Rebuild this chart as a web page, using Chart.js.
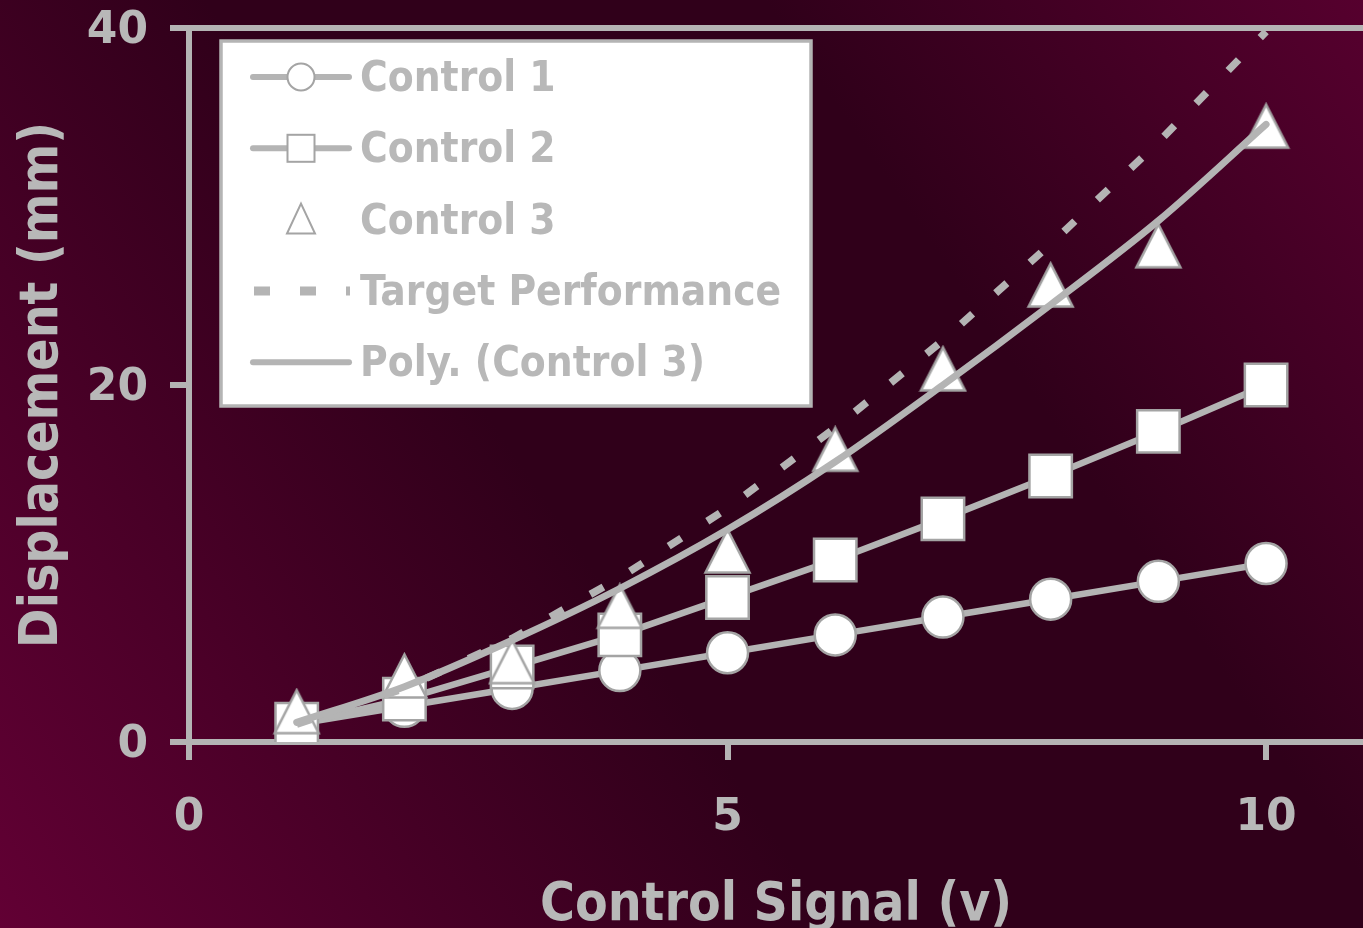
<!DOCTYPE html>
<html>
<head>
<meta charset="utf-8">
<title>Displacement vs Control Signal</title>
<script src="https://cdn.jsdelivr.net/npm/chart.js@4.4.1/dist/chart.umd.min.js"></script>
<style>
  html, body { margin: 0; padding: 0; overflow: hidden; background: #2c0018; }
  canvas { display: block; }
</style>
</head>
<body>
<canvas id="chart" width="1363" height="928" style="width:1363px;height:928px"></canvas>
<script>
// Control signal (v) on the x axis
const signal   = [1, 2, 3, 4, 5, 6, 7, 8, 9, 10];
// Measured displacement (mm)
const control1 = [1.0, 2.0, 3.0, 4.0, 5.0, 6.0, 7.0, 8.0, 9.0, 10.0];
const control2 = [1.0, 2.4, 4.2, 6.0, 8.1, 10.2, 12.5, 14.9, 17.4, 20.0];
const control3 = [1.7, 3.7, 4.5, 7.6, 10.7, 16.4, 20.9, 25.6, 27.8, 34.5];
// Target curve and the polynomial trend of Control 3
const target   = [1.0, 3.0, 5.8, 9.2, 13.1, 17.6, 22.5, 27.9, 33.6, 39.8];
const trend    = [1.1, 3.1, 5.7, 8.6, 11.9, 15.7, 20.0, 24.5, 29.2, 34.6];

const xTicks = [0, 5, 10];
const yTicks = [0, 20, 40];
const seriesNames = ['Control 1', 'Control 2', 'Control 3', 'Target Performance', 'Poly. (Control 3)'];

const GREY = '#b4b4b4';
const EDGE = '#a4a4a4';
const TEXT = '#b8b8b8';
const CONDENSED = "'DejaVu Sans Condensed', 'DejaVu Sans', sans-serif";
const WIDE = "'DejaVu Sans', Verdana, sans-serif";

const toPoints = ys => signal.map((x, i) => ({ x, y: ys[i] }));

// Upright triangle marker, centred on its bounding box
function triangleMarker(w, h, lw, fill, stroke) {
  const c = document.createElement('canvas');
  c.width = Math.ceil(w + lw * 2);
  c.height = Math.ceil(h + lw * 2);
  const g = c.getContext('2d');
  const ox = (c.width - w) / 2, oy = (c.height - h) / 2;
  g.beginPath();
  g.moveTo(ox + w / 2, oy);
  g.lineTo(ox + w, oy + h);
  g.lineTo(ox, oy + h);
  g.closePath();
  g.fillStyle = fill;
  g.fill();
  g.lineWidth = lw;
  g.strokeStyle = stroke;
  g.stroke();
  return c;
}
const triangleImg = triangleMarker(44, 43, 2.5, '#ffffff', EDGE);

// Diagonal maroon backdrop: lighter toward the lower-left and upper-right corners
const backdrop = {
  id: 'backdrop',
  beforeDraw(chart) {
    const { ctx, width, height } = chart;
    ctx.save();
    const g = ctx.createLinearGradient(0, height, width, 0);
    g.addColorStop(0, '#620034');
    g.addColorStop(0.42, '#30001a');
    g.addColorStop(0.7, '#30001a');
    g.addColorStop(1, '#56002e');
    ctx.fillStyle = g;
    ctx.fillRect(0, 0, width, height);
    ctx.restore();
  }
};

// Boxed legend with line-and-marker samples, inside the plot area
const legendBox = {
  id: 'legendBox',
  afterDraw(chart) {
    const ctx = chart.ctx;
    const L = 221, T = 41, R = 811, B = 406;
    ctx.save();
    ctx.fillStyle = '#ffffff';
    ctx.fillRect(L, T, R - L, B - T);
    ctx.lineWidth = 3.5;
    ctx.strokeStyle = GREY;
    ctx.strokeRect(L, T, R - L, B - T);

    const kinds = ['circle', 'rect', 'triangle', 'dash', 'line'];
    const x0 = 253, x1 = 349, mx = 301;
    kinds.forEach((kind, i) => {
      const y = 77 + i * 71.3;
      ctx.strokeStyle = GREY;
      if (kind === 'dash') {
        ctx.lineWidth = 9;
        ctx.lineCap = 'butt';
        ctx.setLineDash([16, 30]);
        ctx.beginPath(); ctx.moveTo(254, y); ctx.lineTo(350, y); ctx.stroke();
        ctx.setLineDash([]);
      } else if (kind !== 'triangle') {
        ctx.lineWidth = 6;
        ctx.lineCap = 'round';
        ctx.beginPath(); ctx.moveTo(x0, y); ctx.lineTo(x1, y); ctx.stroke();
      }
      ctx.fillStyle = '#ffffff';
      ctx.strokeStyle = EDGE;
      ctx.lineWidth = 2;
      if (kind === 'circle') {
        ctx.beginPath(); ctx.arc(mx, y, 13.5, 0, Math.PI * 2); ctx.fill(); ctx.stroke();
      } else if (kind === 'rect') {
        ctx.fillRect(mx - 13.5, y - 13.5, 27, 27); ctx.strokeRect(mx - 13.5, y - 13.5, 27, 27);
      } else if (kind === 'triangle') {
        ctx.beginPath();
        ctx.moveTo(mx, y - 16); ctx.lineTo(mx + 14, y + 14); ctx.lineTo(mx - 14, y + 14);
        ctx.closePath(); ctx.fill(); ctx.stroke();
      }
      ctx.fillStyle = TEXT;
      ctx.font = 'bold 42px ' + CONDENSED;
      ctx.textBaseline = 'middle';
      ctx.textAlign = 'left';
      ctx.fillText(seriesNames[i], 360, y + 3);
    });
    ctx.restore();
  }
};

const markerBase = {
  showLine: true,
  borderColor: GREY,
  borderWidth: 6.5,
  borderCapStyle: 'round',
  borderJoinStyle: 'round',
  pointBackgroundColor: '#ffffff',
  pointBorderColor: EDGE,
  pointBorderWidth: 2.5,
  pointHoverRadius: 0
};

new Chart(document.getElementById('chart'), {
  type: 'scatter',
  data: {
    datasets: [
      {
        label: seriesNames[4],
        data: toPoints(trend),
        showLine: true,
        borderColor: GREY,
        borderWidth: 7,
        borderCapStyle: 'round',
        cubicInterpolationMode: 'monotone',
        pointRadius: 0
      },
      {
        label: seriesNames[3],
        data: toPoints(target),
        showLine: true,
        borderColor: GREY,
        borderWidth: 7.5,
        borderDash: [15, 31],
        borderCapStyle: 'butt',
        pointRadius: 0
      },
      {
        label: seriesNames[2],
        data: toPoints(control3),
        showLine: false,
        pointStyle: triangleImg,
        pointRadius: 22
      },
      Object.assign({}, markerBase, {
        label: seriesNames[1],
        data: toPoints(control2),
        pointStyle: 'rect',
        pointRadius: 30
      }),
      Object.assign({}, markerBase, {
        label: seriesNames[0],
        data: toPoints(control1),
        pointStyle: 'circle',
        pointRadius: 20.5
      })
    ]
  },
  options: {
    responsive: false,
    animation: false,
    events: [],
    devicePixelRatio: 1,
    layout: { autoPadding: false, padding: { top: 28, right: 0, bottom: 0, left: 0 } },
    plugins: {
      legend: { display: false },
      tooltip: { enabled: false }
    },
    scales: {
      x: {
        type: 'linear',
        min: 0,
        max: 10.9,
        afterBuildTicks: s => { s.ticks = xTicks.map(v => ({ value: v })); },
        afterFit: s => { s.height = 186; s.paddingLeft = 0; s.paddingRight = 0; },
        border: { display: true, color: GREY, width: 6 },
        grid: {
          drawOnChartArea: false,
          drawTicks: true,
          tickLength: 18,
          tickColor: GREY,
          tickWidth: 6,
          lineWidth: 6
        },
        ticks: {
          color: TEXT,
          padding: 32,
          maxRotation: 0,
          autoSkip: false,
          font: { family: WIDE, weight: 'bold', size: 44 }
        },
        title: {
          display: true,
          text: 'Control Signal (v)',
          color: TEXT,
          font: { family: CONDENSED, weight: 'bold', size: 53, lineHeight: 1 },
          padding: { top: 0, bottom: -5 }
        }
      },
      y: {
        type: 'linear',
        min: 0,
        max: 40,
        afterBuildTicks: s => { s.ticks = yTicks.map(v => ({ value: v })); },
        afterFit: s => { s.width = 189; s.paddingTop = 0; s.paddingBottom = 0; },
        border: { display: true, color: GREY, width: 6 },
        grid: {
          color: c => (c.tick && c.tick.value === 40 ? GREY : 'rgba(0,0,0,0)'),
          lineWidth: 6,
          drawTicks: true,
          tickLength: 19,
          tickColor: GREY,
          tickWidth: 6
        },
        ticks: {
          color: TEXT,
          padding: 22,
          labelOffset: 4,
          font: { family: WIDE, weight: 'bold', size: 44 }
        },
        title: {
          display: true,
          text: 'Displacement (mm)',
          color: TEXT,
          font: { family: CONDENSED, weight: 'bold', size: 53, lineHeight: 1 },
          padding: { top: 17, bottom: 0 }
        }
      }
    }
  },
  plugins: [backdrop, legendBox]
});
</script>
</body>
</html>
